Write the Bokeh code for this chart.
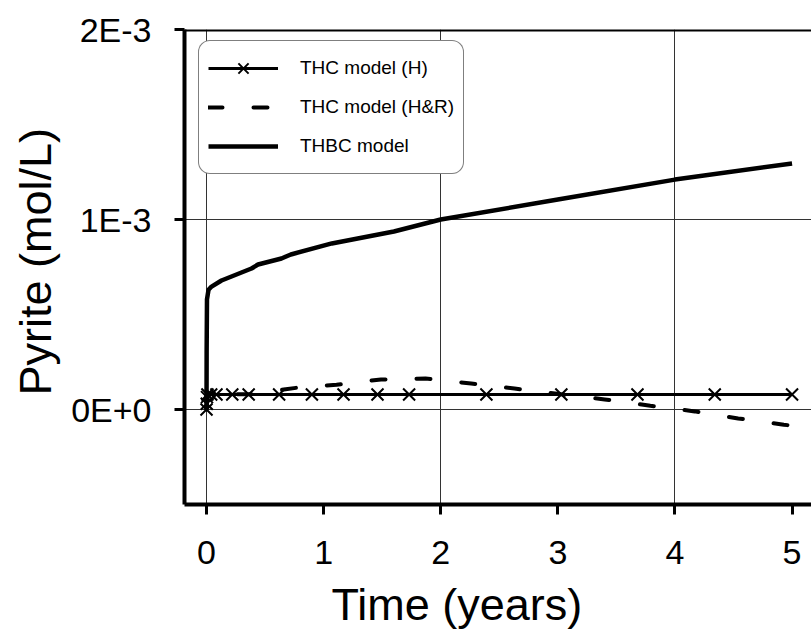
from bokeh.plotting import figure
from bokeh.models import (Range1d, FixedTicker, Legend, LegendItem, Span, Title)
from bokeh.embed import file_html
from bokeh.resources import INLINE

# THC model (H)
x_h = [0, 0.002, 0.004, 0.008, 0.04, 0.085, 0.22, 0.36, 0.62, 0.90, 1.17, 1.46, 1.73, 2.39, 3.03, 3.68, 4.34, 5.0]
y_h = [0, 0.030e-3, 0.065e-3, 0.079e-3, 0.079e-3, 0.079e-3, 0.079e-3, 0.079e-3, 0.079e-3, 0.079e-3,
       0.079e-3, 0.079e-3, 0.079e-3, 0.079e-3, 0.079e-3, 0.079e-3, 0.079e-3, 0.079e-3]

# THC model (H&R)
x_hr = [0, 0.008, 0.4, 0.66, 0.8, 1.11, 1.49, 1.87, 2.26, 2.63, 3.03, 3.40, 3.79, 4.17, 4.54, 4.93, 5.0]
y_hr = [0, 0.079e-3, 0.080e-3, 0.105e-3, 0.117e-3, 0.130e-3, 0.158e-3, 0.163e-3, 0.137e-3, 0.110e-3,
        0.080e-3, 0.053e-3, 0.020e-3, -0.010e-3, -0.047e-3, -0.080e-3, -0.085e-3]

# THBC model
x_b = [0, 0.001, 0.004, 0.017, 0.043, 0.128, 0.384, 0.44, 0.64, 0.72, 1.07, 1.6, 2.0, 3.0, 4.0, 5.0]
y_b = [0, 0.30e-3, 0.58e-3, 0.63e-3, 0.647e-3, 0.679e-3, 0.742e-3, 0.763e-3, 0.795e-3, 0.816e-3,
       0.874e-3, 0.937e-3, 1.0e-3, 1.105e-3, 1.21e-3, 1.295e-3]

x_ticks = [0, 1, 2, 3, 4, 5]
y_ticks = [0, 1e-3, 2e-3]
y_tick_labels = {0: "0E+0", 1e-3: "1E-3", 2e-3: "2E-3"}
x_title = "Time (years)"
y_title = "Pyrite (mol/L)"

FONT = "Liberation Sans"
X0, X1 = -0.188, 5.166
Y0, Y1 = -0.5e-3, 2e-3

p = figure(width=811, height=644, output_backend="svg", toolbar_location=None,
           x_range=Range1d(X0, X1), y_range=Range1d(Y0, Y1),
           min_border_left=183, min_border_right=0, min_border_top=29, min_border_bottom=140)
p.outline_line_color = None
p.background_fill_color = "white"

for ax in (p.xaxis[0], p.yaxis[0]):
    ax.axis_line_width = 4
    ax.axis_line_color = "black"
    ax.major_tick_line_width = 3
    ax.major_tick_line_color = "black"
    ax.major_tick_in = 0
    ax.major_tick_out = 10
    ax.minor_tick_line_color = None
    ax.major_label_text_font = FONT
    ax.major_label_text_font_size = "34px"
    ax.major_label_text_color = "black"

p.xaxis.ticker = FixedTicker(ticks=x_ticks)
p.yaxis.ticker = FixedTicker(ticks=y_ticks)
p.yaxis.major_label_overrides = y_tick_labels
p.xaxis.major_label_standoff = 26
p.yaxis.major_label_standoff = 23

p.xgrid.ticker = FixedTicker(ticks=[0, 2, 4])
p.ygrid.ticker = FixedTicker(ticks=[0, 1e-3])
p.xgrid.grid_line_color = "#333333"
p.ygrid.grid_line_color = "#333333"
p.xgrid.grid_line_width = 1
p.ygrid.grid_line_width = 1

p.add_layout(Span(location=Y1, dimension="width", line_color="black", line_width=4))

# axis titles
p.add_layout(Title(text=x_title, align="left", offset=147, standoff=21, text_font=FONT,
                   text_font_size="45px", text_font_style="normal", text_color="black"), "below")
p.add_layout(Title(text=y_title, align="left", offset=109, standoff=15, text_font=FONT,
                   text_font_size="45px", text_font_style="normal", text_color="black"), "left")

# data
r_h_line = p.line(x_h, y_h, line_color="black", line_width=3)
r_h_pts = p.scatter(x_h, y_h, marker="x", size=17, line_color="black", line_width=2)
r_hr = p.line(x_hr, y_hr, line_color="black", line_width=4, line_dash="14 31", line_cap="round")
r_b = p.line(x_b, y_b, line_color="black", line_width=4.5, line_join="round")

legend = Legend(items=[
    LegendItem(label="THC model (H)", renderers=[r_h_line, r_h_pts]),
    LegendItem(label="THC model (H&R)", renderers=[r_hr]),
    LegendItem(label="THBC model", renderers=[r_b]),
], location=(14, 330))
legend.label_text_font = FONT
legend.label_text_font_size = "19px"
legend.label_text_color = "black"
legend.glyph_width = 70
legend.glyph_height = 36
legend.label_height = 36
legend.label_standoff = 22
legend.spacing = 3
legend.padding = 9
legend.margin = 0
legend.border_line_color = "black"
legend.border_line_width = 1
legend.border_radius = 12
legend.background_fill_alpha = 1.0
p.add_layout(legend)

open("out.html", "w").write(file_html(p, INLINE))
